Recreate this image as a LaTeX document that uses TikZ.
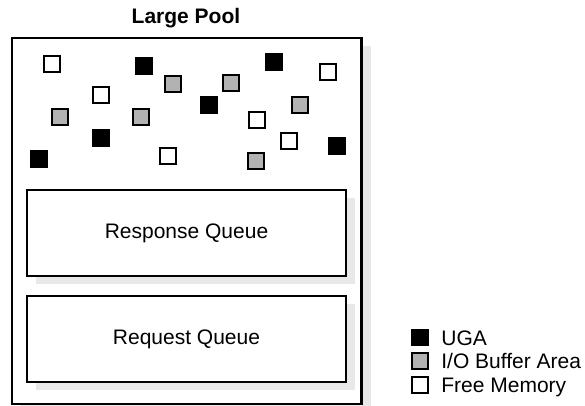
\documentclass[tikz,border=0pt]{standalone}
\usepackage{fontspec}
\setmainfont{Liberation Sans}
\usetikzlibrary{shadows}
\definecolor{bufgray}{RGB}{178,178,178}
\definecolor{shadegray}{RGB}{232,232,232}

\begin{document}
\begin{tikzpicture}[
  x=0.5pt, y=-0.5pt,
  font=\fontsize{10.5}{12.6}\selectfont,
  pool/.style = {
    rectangle, draw=black, line width=1.25pt, fill=white,
    minimum width=174.75pt, minimum height=183pt, inner sep=0pt,
    drop shadow={shadow xshift=4.5pt, shadow yshift=-4pt, fill=shadegray, opacity=1}
  },
  queue/.style = {
    rectangle, draw=black, line width=1pt, fill=white,
    minimum width=159.5pt, minimum height=43pt, inner sep=0pt,
    drop shadow={shadow xshift=4.5pt, shadow yshift=-4pt, fill=shadegray, opacity=1}
  },
  blk/.style = {
    rectangle, draw=black, line width=0.6pt, fill=black,
    minimum size=8pt, inner sep=0pt
  },
  buf/.style = {blk, fill=bufgray},
  free/.style = {blk, fill=white},
  lbl/.style = {anchor=base west, inner sep=0pt}
]
\useasboundingbox (0,0) rectangle (585,406);

\node[font=\fontsize{10.5}{12.6}\selectfont\bfseries] (title) at (186,18) {Large Pool};
\node[pool] (pool) at (186.75,221) {};

% memory chunks in the pool
\foreach \n/\px/\py/\kind in {
  1/52/64/free,   2/144/66/blk,   3/173/84/buf,   4/231/83/buf,
  5/274/62/blk,   6/328/72/free,  7/101/95/free,  8/60/117/buf,
  9/141/117/buf, 10/209/105/blk, 11/257/120/free, 12/300/105/buf,
  13/101/138/blk, 14/39/159/blk, 15/168/156/free, 16/256/161/buf,
  17/289/141/free, 18/337/146/blk}
  \node[\kind] (chunk\n) at (\px,\py) {};

\node[queue] (resp) at (186.5,233) {Response Queue};
\node[queue] (req)  at (186.5,339) {Request Queue};

% legend
\node[blk]  (ugakey)  at (420,337.5) {};
\node[buf]  (bufkey)  at (420,361) {};
\node[free] (freekey) at (420,385) {};
\node[lbl] (ugatxt)  at (441,345.5) {UGA};
\node[lbl] (buftxt)  at (441,369) {I/O Buffer Area};
\node[lbl] (freetxt) at (441,393) {Free Memory};
\end{tikzpicture}
\end{document}
